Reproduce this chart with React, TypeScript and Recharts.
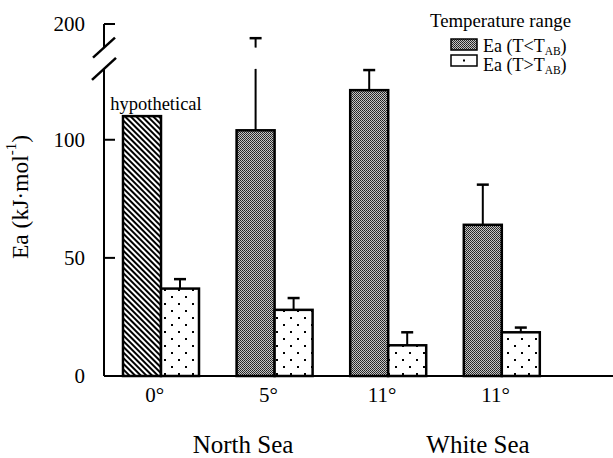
import { BarChart, Bar, XAxis, YAxis, Legend } from "recharts";

// Activation energy per acclimation group, kJ/mol
const sites = ["0°", "5°", "11°", "11°", ""];
const eaBelow = [110, 104, 121, 64, null]; // Ea (T < T_AB)
const eaBelowSd = [null, 90, 8.5, 17, null];
const eaAbove = [37, 28, 13, 18.5, null]; // Ea (T > T_AB)
const eaAboveSd = [4, 5, 5.5, 2, null];
const hypothetical = [true, false, false, false, false];
const yTickValues = [0, 50, 100, 200];
const regions = ["North Sea", "White Sea"];

const SERIF = '"Liberation Serif", "Times New Roman", serif';

// Broken y axis: everything between CUT_FROM and CUT_TO is cut out,
// leaving CUT_GAP axis units of blank space for the break marks.
const CUT_FROM = 130;
const CUT_TO = 190;
const CUT_GAP = 9;
const CUT_MID = CUT_FROM + CUT_GAP / 2;
const toAxis = (v: number) => (v <= CUT_FROM ? v : v - (CUT_TO - CUT_FROM) + CUT_GAP);
const fromAxis = (a: number) => (a <= CUT_FROM ? a : a + (CUT_TO - CUT_FROM) - CUT_GAP);

const rows = sites.map((site, i) => ({
  site,
  below: eaBelow[i],
  belowSd: eaBelowSd[i],
  above: eaAbove[i],
  aboveSd: eaAboveSd[i],
  hypo: hypothetical[i],
}));

const yTicks = [...yTickValues.map(toAxis), CUT_MID].sort((a, b) => a - b);

const makeShape = (valueKey: "below" | "above", sdKey: "belowSd" | "aboveSd", fill: string) =>
  (props: any) => {
    const { x, y, width, height, payload } = props;
    const value = payload[valueKey];
    if (value == null || !height) return <g />;
    const unit = height / value; // px per axis unit
    const base = y + height;
    const py = (a: number) => base - a * unit;
    const cx = x + width / 2;
    const sd = payload[sdKey];
    const hypo = valueKey === "below" && payload.hypo;

    const segs: [number, number][] = [];
    let capY: number | null = null;
    if (sd) {
      const top = value + sd;
      capY = py(toAxis(top));
      if (top > CUT_FROM) {
        segs.push([y, py(CUT_FROM)], [py(CUT_FROM + CUT_GAP), capY]);
      } else {
        segs.push([y, capY]);
      }
    }

    return (
      <g>
        <rect
          x={x}
          y={y}
          width={width}
          height={height}
          fill={hypo ? "url(#hatch)" : fill}
          stroke="#000"
          strokeWidth={2.5}
        />
        {segs.map(([a, b], k) => (
          <line key={k} x1={cx} x2={cx} y1={a} y2={b} stroke="#000" strokeWidth={2} />
        ))}
        {capY != null && (
          <line x1={cx - 6} x2={cx + 6} y1={capY} y2={capY} stroke="#000" strokeWidth={2.5} />
        )}
        {hypo && (
          <text x={cx + 14} y={y - 6} textAnchor="middle" fontSize={18.5} fontFamily={SERIF} fill="#000">
            hypothetical
          </text>
        )}
      </g>
    );
  };

const belowShape = makeShape("below", "belowSd", "url(#stipple)");
const aboveShape = makeShape("above", "aboveSd", "url(#dots)");

function YTick({ x, y, payload }: any) {
  if (payload.value === CUT_MID) {
    return (
      <g>
        <rect x={x - 3} y={y - 10.6} width={6} height={21.2} fill="#fff" />
        <line x1={x - 11} y1={y - 0.6} x2={x + 11} y2={y - 20.6} stroke="#000" strokeWidth={2.5} />
        <line x1={x - 12} y1={y + 21.6} x2={x + 12} y2={y - 0.4} stroke="#000" strokeWidth={2.5} />
      </g>
    );
  }
  return (
    <g>
      <line x1={x} x2={x + 11} y1={y} y2={y} stroke="#000" strokeWidth={2} />
      <text
        x={x - 19}
        y={y}
        textAnchor="end"
        dominantBaseline="central"
        fontSize={21}
        fontFamily={SERIF}
        fill="#000"
      >
        {Math.round(fromAxis(payload.value))}
      </text>
    </g>
  );
}

function XTick({ x, y, payload }: any) {
  return (
    <text x={x - 6} y={y + 26} textAnchor="middle" fontSize={21} fontFamily={SERIF} fill="#000">
      {payload.value}
    </text>
  );
}

const yLabel = ({ viewBox }: any) => {
  const cx = viewBox.x + 20;
  const cy = viewBox.y + viewBox.height / 2 - 3;
  return (
    <text
      transform={`translate(${cx},${cy}) rotate(-90)`}
      textAnchor="middle"
      dominantBaseline="central"
      fontSize={23.5}
      fontFamily={SERIF}
      fill="#000"
    >
      Ea (kJ·mol
      <tspan dy={-9} fontSize={15}>
        -1
      </tspan>
      <tspan dy={9}>)</tspan>
    </text>
  );
};

const renderLegend = () => (
  <svg width={613} height={78}>
    <text x={430} y={27} fontSize={18.8} fontFamily={SERIF} fill="#000">
      Temperature range
    </text>
    <rect x={451} y={39} width={26} height={11} fill="url(#stipple)" stroke="#000" strokeWidth={1.5} />
    <text x={483} y={52} fontSize={18} fontFamily={SERIF} fill="#000">
      Ea (T&lt;T
      <tspan dy={3} fontSize={11.5}>
        AB
      </tspan>
      <tspan dy={-3}>)</tspan>
    </text>
    <rect x={451} y={55} width={26} height={11} fill="#fff" stroke="#000" strokeWidth={1.5} />
    <rect x={463} y={59.5} width={2} height={2} fill="#000" />
    <text x={483} y={71} fontSize={18} fontFamily={SERIF} fill="#000">
      Ea (T&gt;T
      <tspan dy={3} fontSize={11.5}>
        AB
      </tspan>
      <tspan dy={-3}>)</tspan>
    </text>
  </svg>
);

const regionX = [243, 478];

export default function App() {
  return (
    <div
      style={{
        position: "fixed",
        left: 0,
        top: 0,
        width: 613,
        height: 458,
        overflow: "hidden",
        background: "#fff",
      }}
    >
      <BarChart
        width={672}
        height={458}
        data={rows}
        margin={{ top: 24, right: 0, bottom: 52, left: 0 }}
        barSize={38}
        barGap={0}
      >
        <defs>
          <pattern id="stipple" width={2} height={2} patternUnits="userSpaceOnUse">
            <rect width={2} height={2} fill="#c4c4c4" />
            <rect width={1} height={1} fill="#202020" />
            <rect x={1} y={1} width={1} height={1} fill="#333" />
          </pattern>
          <pattern id="hatch" width={4} height={4} patternUnits="userSpaceOnUse" patternTransform="rotate(-45)">
            <rect width={4} height={4} fill="#fff" />
            <line x1={2} y1={0} x2={2} y2={4} stroke="#000" strokeWidth={2} />
          </pattern>
          <pattern id="dots" width={14} height={14} patternUnits="userSpaceOnUse">
            <rect width={14} height={14} fill="#fff" />
            <rect x={3} y={2} width={2} height={2} fill="#000" />
            <rect x={10} y={9} width={2} height={2} fill="#000" />
          </pattern>
        </defs>
        <XAxis
          dataKey="site"
          interval={0}
          tickLine={false}
          tickSize={0}
          tickMargin={0}
          height={30}
          axisLine={{ stroke: "#000", strokeWidth: 2 }}
          tick={XTick}
        />
        <YAxis
          type="number"
          domain={[0, toAxis(200)]}
          ticks={yTicks}
          interval={0}
          width={104}
          tickLine={false}
          tickSize={0}
          tickMargin={0}
          axisLine={{ stroke: "#000", strokeWidth: 2 }}
          tick={YTick}
          label={yLabel}
        />
        <Legend
          verticalAlign="middle"
          align="center"
          layout="horizontal"
          wrapperStyle={{ top: 0, left: 0, width: 613, height: 78 }}
          content={renderLegend}
        />
        <Bar dataKey="below" shape={belowShape} isAnimationActive={false} />
        <Bar dataKey="above" shape={aboveShape} isAnimationActive={false} />
      </BarChart>
      <svg
        width={613}
        height={458}
        style={{ position: "absolute", left: 0, top: 0, pointerEvents: "none" }}
      >
        {regions.map((r, i) => (
          <text key={r} x={regionX[i]} y={453} textAnchor="middle" fontSize={25} fontFamily={SERIF} fill="#000">
            {r}
          </text>
        ))}
      </svg>
    </div>
  );
}
